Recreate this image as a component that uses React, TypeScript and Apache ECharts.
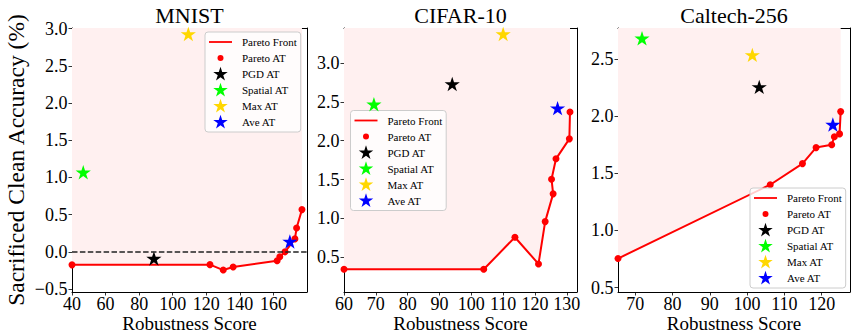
import React, { useEffect, useRef } from 'react';
import * as echarts from 'echarts';

const FONT = 'Liberation Serif, Times New Roman, Times, serif';

// ---------- DATA ----------
const seriesNames = ['Pareto Front', 'Pareto AT', 'PGD AT', 'Spatial AT', 'Max AT', 'Ave AT'];
const titles = ['MNIST', 'CIFAR-10', 'Caltech-256'];

// MNIST
const mnistParetoX = [40, 122.2, 130.1, 136.0, 162.2, 163.8, 166.9, 172.8, 173.8, 177.0];
const mnistParetoY = [-0.175, -0.172, -0.245, -0.203, -0.12, -0.067, 0.0, 0.174, 0.32, 0.568];
const mnistPgd = [88.8, -0.1];
const mnistSpatial = [46.7, 1.06];
const mnistMax = [109.3, 2.92];
const mnistAve = [169.8, 0.13];
const mnistXRange = [40, 180];
const mnistYRange = [-0.54, 3.01];
const mnistXTicks = [40, 60, 80, 100, 120, 140, 160];
const mnistYTicks = [-0.5, 0, 0.5, 1, 1.5, 2, 2.5, 3];

// CIFAR-10
const cifarParetoX = [60, 103.9, 113.7, 121.1, 123.2, 125.7, 125.2, 126.6, 130.8, 131.0];
const cifarParetoY = [0.345, 0.345, 0.758, 0.414, 0.959, 1.316, 1.505, 1.767, 2.024, 2.37];
const cifarPgd = [94.0, 2.72];
const cifarSpatial = [69.4, 2.46];
const cifarMax = [110.0, 3.365];
const cifarAve = [127.1, 2.41];
const cifarXRange = [60, 133.2];
const cifarYRange = [0.053, 3.451];
const cifarXTicks = [60, 70, 80, 90, 100, 110, 120, 130];
const cifarYTicks = [0.5, 1, 1.5, 2, 2.5, 3];

// Caltech-256
const caltechParetoX = [65.36, 106.2, 114.85, 118.5, 122.7, 123.4, 124.8, 125.1];
const caltechParetoY = [0.754, 1.4, 1.585, 1.725, 1.75, 1.82, 1.845, 2.04];
const caltechPgd = [103.25, 2.25];
const caltechSpatial = [71.8, 2.675];
const caltechMax = [101.4, 2.53];
const caltechAve = [123.0, 1.92];
const caltechXRange = [65.36, 127.6];
const caltechYRange = [0.461, 2.772];
const caltechXTicks = [70, 80, 90, 100, 110, 120];
const caltechYTicks = [0.5, 1, 1.5, 2, 2.5];

const starColors = ['#000000', '#00ff00', '#ffd700', '#0000ff'];
const paretoColor = '#ff0000';
const fillColor = '#fff0f0';

// ---------- LAYOUT ----------
const GRID_TOP = 28;
const GRID_HEIGHT = 264;
const layouts = [
  { left: 72, width: 235, legendLeft: 205, legendTop: 32, zeroLine: true, yName: true },
  { left: 344, width: 233, legendLeft: 350.5, legendTop: 110.5, zeroLine: false, yName: false },
  { left: 618, width: 232, legendLeft: 750, legendTop: 188, zeroLine: false, yName: false },
];

function starPoints(cx: number, cy: number, R: number): string {
  const r = R * 0.381966;
  const pts: string[] = [];
  for (let i = 0; i < 10; i++) {
    const a = (-90 + i * 36) * Math.PI / 180;
    const rad = i % 2 === 0 ? R : r;
    pts.push((cx + rad * Math.cos(a)).toFixed(3) + ',' + (cy + rad * Math.sin(a)).toFixed(3));
  }
  return 'M' + pts.join(' L') + ' Z';
}

const starSymbol = 'path://M0,0 M16,16 ' + starPoints(8, 8, 8);
const legendLineIcon = 'path://M0,0 M28,16 M0,7.1 L23,7.1 L23,8.9 L0,8.9 Z';
const legendDotIcon = 'path://M0,0 M28,16 M14.5,8 A3,3 0 1 1 8.5,8 A3,3 0 1 1 14.5,8 Z';
const legendStarIcon = 'path://M0,0 M28,16 ' + starPoints(11.5, 8.3, 7.6);

function zip(xs: number[], ys: number[]) {
  return xs.map((x, i) => [x, ys[i]]);
}

function fmtY(v: number) {
  const s = Math.abs(v).toFixed(1);
  return v < -1e-9 ? '\u2212' + s : s;
}

const panels = [
  { px: mnistParetoX, py: mnistParetoY, stars: [mnistPgd, mnistSpatial, mnistMax, mnistAve], xr: mnistXRange, yr: mnistYRange, xt: mnistXTicks, yt: mnistYTicks },
  { px: cifarParetoX, py: cifarParetoY, stars: [cifarPgd, cifarSpatial, cifarMax, cifarAve], xr: cifarXRange, yr: cifarYRange, xt: cifarXTicks, yt: cifarYTicks },
  { px: caltechParetoX, py: caltechParetoY, stars: [caltechPgd, caltechSpatial, caltechMax, caltechAve], xr: caltechXRange, yr: caltechYRange, xt: caltechXTicks, yt: caltechYTicks },
];

function txt(size: number, extra: any = {}) {
  return { fontFamily: FONT, fontSize: size, fontWeight: 'normal', fontStyle: 'normal', color: '#000', ...extra };
}

function buildOption() {
  const grid: any[] = [];
  const xAxis: any[] = [];
  const yAxis: any[] = [];
  const series: any[] = [];
  const legend: any[] = [];
  const title: any[] = [];

  panels.forEach((p, g) => {
    const L = layouts[g];
    grid.push({ left: L.left, top: GRID_TOP, width: L.width, height: GRID_HEIGHT, containLabel: false, outerBoundsMode: 'none' });
    title.push({
      text: titles[g], left: L.left + L.width / 2, top: 4, textAlign: 'center', padding: 0,
      textStyle: txt(22),
    });
    const axisLine = { show: true, onZero: false, lineStyle: { color: '#000', width: 1 } };
    xAxis.push({
      type: 'value', gridIndex: g, min: p.xr[0], max: p.xr[1], position: 'bottom',
      axisLine,
      axisTick: { show: true, inside: false, length: 3.5, lineStyle: { color: '#000', width: 0.8 }, customValues: p.xt },
      axisLabel: { show: true, customValues: p.xt, margin: 2.5, ...txt(18), formatter: (v: number) => String(Math.round(v)) },
      splitLine: { show: false },
      name: 'Robustness Score', nameLocation: 'middle', nameGap: 22, nameMoveOverlap: false,
      nameTextStyle: txt(19, { lineHeight: 19 }),
    });
    xAxis.push({
      type: 'value', gridIndex: g, min: p.xr[0], max: p.xr[1], position: 'top',
      axisLine, axisTick: { show: false }, axisLabel: { show: false }, splitLine: { show: false },
    });
    yAxis.push({
      type: 'value', gridIndex: g, min: p.yr[0], max: p.yr[1], position: 'left',
      axisLine,
      axisTick: { show: true, inside: false, length: 3.5, lineStyle: { color: '#000', width: 0.8 }, customValues: p.yt },
      axisLabel: { show: true, customValues: p.yt, margin: 4.5, ...txt(18), formatter: (v: number) => fmtY(v) },
      splitLine: { show: false },
      ...(L.yName ? {
        name: 'Sacrificed Clean Accuracy (%)', nameLocation: 'middle', nameGap: 44, nameMoveOverlap: false,
        nameTextStyle: txt(23.5),
      } : {}),
    });
    yAxis.push({
      type: 'value', gridIndex: g, min: p.yr[0], max: p.yr[1], position: 'right',
      axisLine, axisTick: { show: false }, axisLabel: { show: false }, splitLine: { show: false },
    });

    const xi = g * 2;
    const yi = g * 2;
    const lineSeries: any = {
      type: 'line', name: seriesNames[0], xAxisIndex: xi, yAxisIndex: yi,
      data: zip(p.px, p.py), showSymbol: false, symbol: 'none', color: paretoColor,
      itemStyle: { color: paretoColor, opacity: 1 },
      lineStyle: { color: paretoColor, width: 2, opacity: 1 },
      areaStyle: { origin: 'end', color: fillColor, opacity: 1 },
      z: 2, silent: true,
    };
    if (L.zeroLine) {
      lineSeries.markLine = {
        silent: true, symbol: ['none', 'none'], label: { show: false },
        lineStyle: { color: '#222', type: [5.5, 2.4], width: 1.5, opacity: 1 },
        data: [{ yAxis: 0 }],
      };
    }
    series.push(lineSeries);
    series.push({
      type: 'scatter', name: seriesNames[1], xAxisIndex: xi, yAxisIndex: yi,
      data: zip(p.px, p.py), symbol: 'circle', symbolSize: 7, color: paretoColor,
      itemStyle: { color: paretoColor, opacity: 1 }, z: 3, silent: true,
    });
    p.stars.forEach((s, k) => {
      series.push({
        type: 'scatter', name: seriesNames[2 + k], xAxisIndex: xi, yAxisIndex: yi,
        data: [s], symbol: starSymbol, symbolSize: 16, symbolKeepAspect: true,
        color: starColors[k], itemStyle: { color: starColors[k], opacity: 1 }, z: 4, silent: true,
      });
    });

    legend.push({
      orient: 'vertical', left: L.legendLeft, top: L.legendTop,
      padding: [2, 4, 2, 4], itemGap: 0, itemWidth: 28, itemHeight: 16,
      selectedMode: false,
      backgroundColor: 'rgba(255,255,255,0.8)', borderColor: '#cccccc', borderWidth: 1, borderRadius: 3,
      textStyle: txt(11, { lineHeight: 16 }),
      itemStyle: { borderWidth: 0, opacity: 1 },
      data: [
        { name: seriesNames[0], icon: legendLineIcon },
        { name: seriesNames[1], icon: legendDotIcon },
        { name: seriesNames[2], icon: legendStarIcon },
        { name: seriesNames[3], icon: legendStarIcon },
        { name: seriesNames[4], icon: legendStarIcon },
        { name: seriesNames[5], icon: legendStarIcon },
      ],
    });
  });

  return {
    animation: false,
    backgroundColor: '#ffffff',
    textStyle: { fontFamily: FONT, fontWeight: 'normal' },
    title, grid, xAxis, yAxis, legend, series,
  };
}

export default function App() {
  const ref = useRef<HTMLDivElement>(null);
  useEffect(() => {
    if (!ref.current) return;
    const chart = echarts.init(ref.current, undefined, { renderer: 'svg' });
    chart.setOption(buildOption() as any);
    return () => chart.dispose();
  }, []);
  return (
    <div
      ref={ref}
      style={{ position: 'fixed', left: 0, top: 0, width: 852, height: 335, background: '#fff' }}
    />
  );
}
